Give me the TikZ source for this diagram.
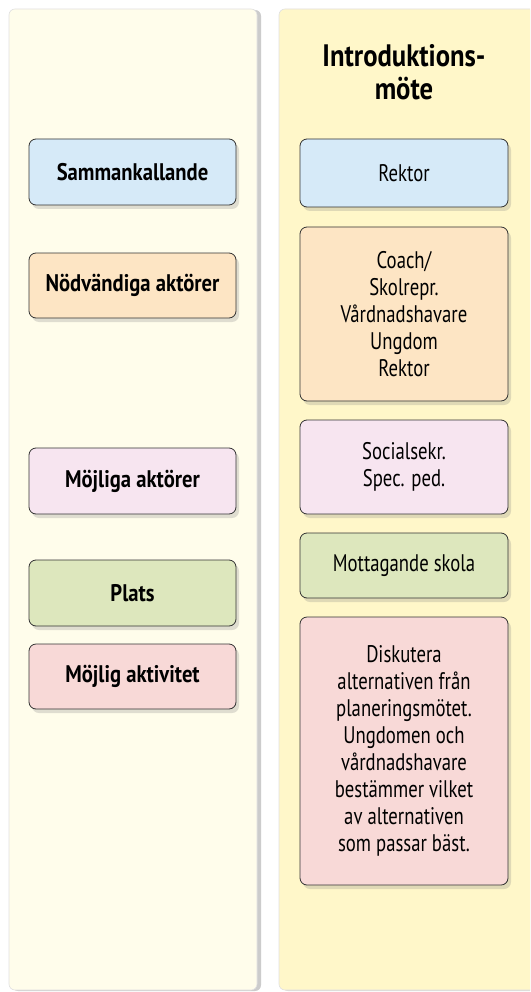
\documentclass[tikz,border=0pt]{standalone}
\usepackage{fontspec}
\setmainfont{PT Sans}[FakeStretch=0.78]
\newfontfamily\labelfont{PT Sans}[FakeStretch=0.86]
\usetikzlibrary{shadows}

\definecolor{leftbg}{HTML}{FFFDEB}
\definecolor{rightbg}{HTML}{FFF7C9}
\definecolor{cardblue}{HTML}{D6EAF8}
\definecolor{cardorange}{HTML}{FDE5C4}
\definecolor{cardpink}{HTML}{F7E5F0}
\definecolor{cardgreen}{HTML}{DDE7BD}
\definecolor{cardred}{HTML}{F8D9D7}

\tikzset{
  panel/.style={rounded corners=6pt,draw=black!12,line width=0.6pt},
  card/.style={draw=black!80,line width=0.8pt,rounded corners=7pt,align=center,
    drop shadow={opacity=0.25,shadow xshift=3pt,shadow yshift=-4pt},
    font=\fontsize{24}{27}\selectfont},
  leftcard/.style={card,minimum width=207pt,font=\fontsize{24}{27}\selectfont\labelfont\bfseries},
  rightcard/.style={card,minimum width=208pt}
}

\begin{document}
\begin{tikzpicture}[x=1pt,y=-1pt]
  \useasboundingbox (0,0) rectangle (530,992);
  \clip (0,0) rectangle (530,992);
  \fill[white] (0,0) rectangle (530,992);
  % panels
  \fill[black!20,rounded corners=6pt] (12,10) rectangle (261,991);
  \draw[panel,fill=leftbg] (9,9) rectangle (257,990);
  \fill[black!15,rounded corners=6pt] (282,10) rectangle (548,991);
  \draw[panel,fill=rightbg] (279,9) rectangle (545,990);

  \node (title) at (404,72) [align=center,font=\fontsize{31}{33}\selectfont\labelfont\bfseries] {Introduktions-\\möte};

  % left column
  \node (sk) at (132.5,172) [leftcard,fill=cardblue,minimum height=66pt] {Sammankallande};
  \node (nd) at (132.5,285.5) [leftcard,fill=cardorange,minimum height=65pt] {Nödvändiga aktörer};
  \node (ma) at (132.5,481) [leftcard,fill=cardpink,minimum height=66pt] {Möjliga aktörer};
  \node (pl) at (132.5,593) [leftcard,fill=cardgreen,minimum height=66pt] {Plats};
  \node (mak) at (132.5,676.5) [leftcard,fill=cardred,minimum height=65pt] {Möjlig aktivitet};

  % right column
  \node (rk) at (404,173) [rightcard,fill=cardblue,minimum height=68pt] {Rektor};
  \node (co) at (404,314) [rightcard,fill=cardorange,minimum height=174pt] {Coach/\\Skolrepr.\\Vårdnadshavare\\Ungdom\\Rektor};
  \node (so) at (404,467) [rightcard,fill=cardpink,minimum height=94pt] {Socialsekr.\\Spec. ped.};
  \node (mo) at (404,565.5) [rightcard,fill=cardgreen,minimum height=65pt] {Mottagande skola};
  \node (di) at (404,751) [rightcard,fill=cardred,minimum height=268pt] {Diskutera\\alternativen från\\planeringsmötet.\\Ungdomen och\\vårdnadshavare\\bestämmer vilket\\av alternativen\\som passar bäst.};
\end{tikzpicture}
\end{document}
